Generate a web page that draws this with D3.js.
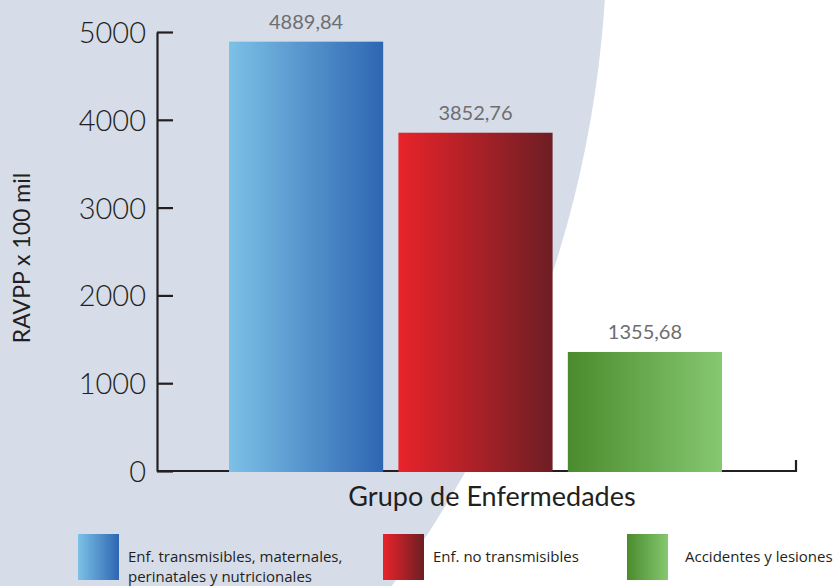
<!DOCTYPE html>
<html><head><meta charset="utf-8">
<script src="https://cdn.jsdelivr.net/npm/d3@7"></script>
<style>html,body{margin:0;padding:0;background:#fff;}svg{display:block;}</style>
</head><body>
<script>
const categories = ["Enf. transmisibles, maternales, perinatales y nutricionales", "Enf. no transmisibles", "Accidentes y lesiones"];
const values = [4889.84, 3852.76, 1355.68];
const valueLabels = ["4889,84", "3852,76", "1355,68"];
const yTicks = [0, 1000, 2000, 3000, 4000, 5000];
const legendLines = [["Enf. transmisibles, maternales,", "perinatales y nutricionales"], ["Enf. no transmisibles"], ["Accidentes y lesiones"]];
const gradStops = [["#7cc1e7", "#2e66b2"], ["#e9232a", "#6d1e24"], ["#4a8b2d", "#86c870"]];

const W = 840, H = 586;
const svg = d3.select("body").append("svg").attr("width", W).attr("height", H);

// background shape
svg.append("circle").attr("cx", -500).attr("cy", -70).attr("r", 1107).attr("fill", "#d6dce8");

const defs = svg.append("defs");
gradStops.forEach((s, i) => {
  const g = defs.append("linearGradient").attr("id", "g" + i).attr("x1", "0").attr("x2", "1").attr("y1", "0").attr("y2", "0");
  g.append("stop").attr("offset", "0").attr("stop-color", s[0]);
  g.append("stop").attr("offset", "1").attr("stop-color", s[1]);
});

const y = d3.scaleLinear().domain([0, 5000]).range([471, 32]);
const x = d3.scaleBand().domain(categories).range([229, 722]).paddingInner(0.09).paddingOuter(0);
const axisX0 = 157, axisX1 = 796;

// y axis
const ya = svg.append("g").attr("transform", `translate(${axisX0},0)`)
  .call(d3.axisLeft(y).tickValues(yTicks).tickFormat(d3.format("d")).tickSize(-16).tickSizeOuter(0).tickPadding(11));
ya.selectAll("path,line").attr("stroke", "#231f20").attr("stroke-width", 2.2);
ya.selectAll("text").attr("fill", "#231f20").style("font-family", "Lato, sans-serif").style("font-weight", "300").style("font-size", "29px").attr("dy", "0.36em");

// x axis baseline
svg.append("path")
  .attr("d", `M${axisX0},${y(0)}H${axisX1}V${y(0) - 11}`)
  .attr("fill", "none").attr("stroke", "#231f20").attr("stroke-width", 2.2);

// bars
svg.selectAll("rect.bar").data(values).join("rect").attr("class", "bar")
  .attr("x", (d, i) => x(categories[i]))
  .attr("width", x.bandwidth())
  .attr("y", d => y(d))
  .attr("height", d => y(0) - y(d) + 1)
  .attr("fill", (d, i) => `url(#g${i})`);

// value labels
svg.selectAll("text.val").data(values).join("text").attr("class", "val")
  .attr("x", (d, i) => x(categories[i]) + x.bandwidth() / 2)
  .attr("y", d => y(d) - 13)
  .attr("text-anchor", "middle")
  .attr("fill", "#6d6e71")
  .style("font-family", "Lato, sans-serif").style("font-size", "20px")
  .text((d, i) => valueLabels[i]);

// axis titles
svg.append("text").attr("transform", "translate(30,258) rotate(-90)")
  .attr("text-anchor", "middle").attr("fill", "#231f20")
  .style("font-family", "Lato, sans-serif").style("font-size", "23px")
  .text("RAVPP x 100 mil");
svg.append("text").attr("x", 492).attr("y", 506)
  .attr("text-anchor", "middle").attr("fill", "#231f20")
  .style("font-family", "Lato, sans-serif").style("font-size", "27px")
  .text("Grupo de Enfermedades");

// legend
const legX = [78, 383, 627];
const lg = svg.selectAll("g.leg").data(categories).join("g").attr("class", "leg")
  .attr("transform", (d, i) => `translate(${legX[i]},534)`);
lg.append("rect").attr("width", 41).attr("height", 46).attr("fill", (d, i) => `url(#g${i})`);
lg.each(function (d, i) {
  const t = d3.select(this).append("text").attr("fill", "#231f20")
    .style("font-family", "'Open Sans', sans-serif").style("font-size", "15px");
  const lines = legendLines[i];
  const tx = i === 2 ? 58 : 50;
  lines.forEach((ln, j) => {
    t.append("tspan").attr("x", tx).attr("y", 28 + j * 20).text(ln);
  });
});
</script>
</body></html>
